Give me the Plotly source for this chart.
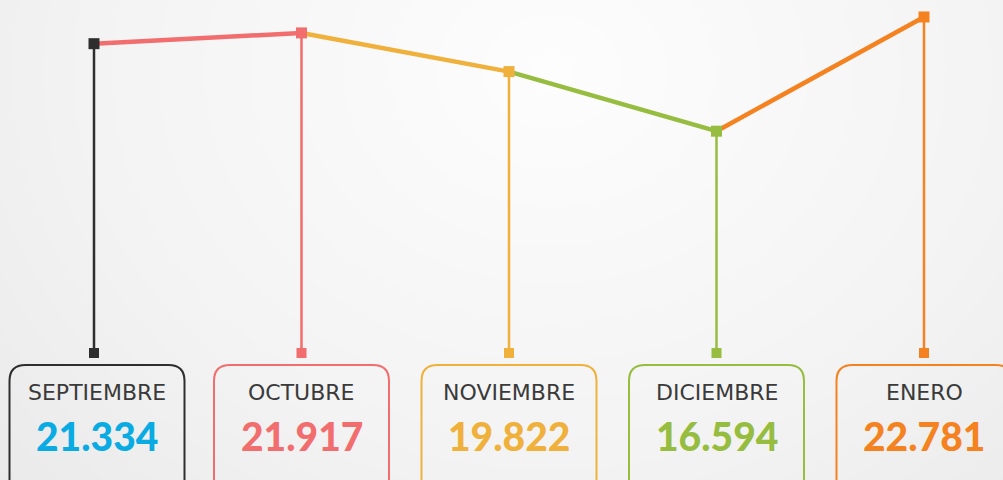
import plotly.graph_objects as go
import numpy as np

months = ["SEPTIEMBRE", "OCTUBRE", "NOVIEMBRE", "DICIEMBRE", "ENERO"]
values = [21334, 21917, 19822, 16594, 22781]
value_labels = ["21.334", "21.917", "19.822", "16.594", "22.781"]
point_colors = ["#2e2e2e", "#f26d6d", "#f0b13c", "#96bd40", "#f58220"]
value_colors = ["#0aabe3", "#f26d6d", "#f0b13c", "#96bd40", "#f58220"]

W, H = 1003, 480
STEP = 207.5
X0_PX = 94
X_RANGE = [-X0_PX / STEP, (W - X0_PX) / STEP]
Y_RANGE = [-2300, 23700]
BASE_PAPER = 1 - 353 / H
base_val = Y_RANGE[0] + BASE_PAPER * (Y_RANGE[1] - Y_RANGE[0])
BOX_SHIFT_PX = [3, 0, 0, 0, 0]

fig = go.Figure()

# background radial gradient (decoration)
gx = np.linspace(0, 1, 60)
gy = np.linspace(0, 1, 30)
GX, GY = np.meshgrid(gx, gy)
dist = np.sqrt(((GX - 0.55) * 1.3) ** 2 + ((GY - 0.85) * 0.75) ** 2)
fig.add_trace(go.Heatmap(
    x=gx, y=gy, z=dist, xaxis="x2", yaxis="y2", zsmooth="best",
    colorscale=[[0, "#fdfdfd"], [0.6, "#f3f3f3"], [1, "#e9e9e9"]],
    zmin=0, zmax=1.0, showscale=False, hoverinfo="skip"))

x_idx = list(range(len(months)))

# drop lines
for i in x_idx:
    fig.add_trace(go.Scatter(
        x=[i, i], y=[values[i], base_val], mode="lines",
        line=dict(color=point_colors[i], width=2.5),
        hoverinfo="skip", showlegend=False))

# connecting segments colored by next point
for i in range(len(months) - 1):
    fig.add_trace(go.Scatter(
        x=[i, i + 1], y=[values[i], values[i + 1]], mode="lines",
        line=dict(color=point_colors[i + 1], width=4.5),
        hoverinfo="skip", showlegend=False))

# markers top
fig.add_trace(go.Scatter(
    x=x_idx, y=values, mode="markers",
    marker=dict(symbol="square", size=11, color=point_colors, line=dict(width=0)),
    hoverinfo="skip", showlegend=False))
# markers bottom
fig.add_trace(go.Scatter(
    x=x_idx, y=[base_val] * len(x_idx), mode="markers",
    marker=dict(symbol="square", size=10, color=point_colors, line=dict(width=0)),
    hoverinfo="skip", showlegend=False))

# boxes
shapes = []
hw = 87.5 / STEP
rx = 16 / STEP
ry = 16 / H
yt = 1 - 365 / H
yb = -0.1
for i in x_idx:
    c = i + BOX_SHIFT_PX[i] / STEP
    xl, xr = c - hw, c + hw
    path = (f"M {xl},{yb} L {xl},{yt - ry} Q {xl},{yt} {xl + rx},{yt} "
            f"L {xr - rx},{yt} Q {xr},{yt} {xr},{yt - ry} L {xr},{yb}")
    shapes.append(dict(type="path", path=path, xref="x", yref="paper",
                       line=dict(color=point_colors[i], width=2), layer="above"))

annotations = []
for i in x_idx:
    c = i + BOX_SHIFT_PX[i] / STEP
    annotations.append(dict(x=c, y=1 - 392 / H, xref="x", yref="paper",
                            text=months[i], showarrow=False,
                            font=dict(family="DejaVu Sans", size=22, color="#3a3a3a"),
                            xanchor="center", yanchor="middle"))
    annotations.append(dict(x=c, y=1 - 436 / H, xref="x", yref="paper",
                            text=value_labels[i], showarrow=False,
                            font=dict(family="Lato", size=39, color=value_colors[i], weight=900),
                            xanchor="center", yanchor="middle"))

fig.update_layout(
    width=W, height=H,
    margin=dict(l=0, r=0, t=0, b=0),
    paper_bgcolor="#f1f1f1", plot_bgcolor="rgba(0,0,0,0)",
    xaxis=dict(range=X_RANGE, visible=False, fixedrange=True, overlaying="x2"),
    yaxis=dict(range=Y_RANGE, visible=False, fixedrange=True, overlaying="y2"),
    xaxis2=dict(range=[0, 1], visible=False, domain=[0, 1]),
    yaxis2=dict(range=[0, 1], visible=False, domain=[0, 1]),
    shapes=shapes, annotations=annotations, showlegend=False,
)

fig.write_html("out.html", config={"displayModeBar": False},
               post_script="document.body.style.margin='0';")
